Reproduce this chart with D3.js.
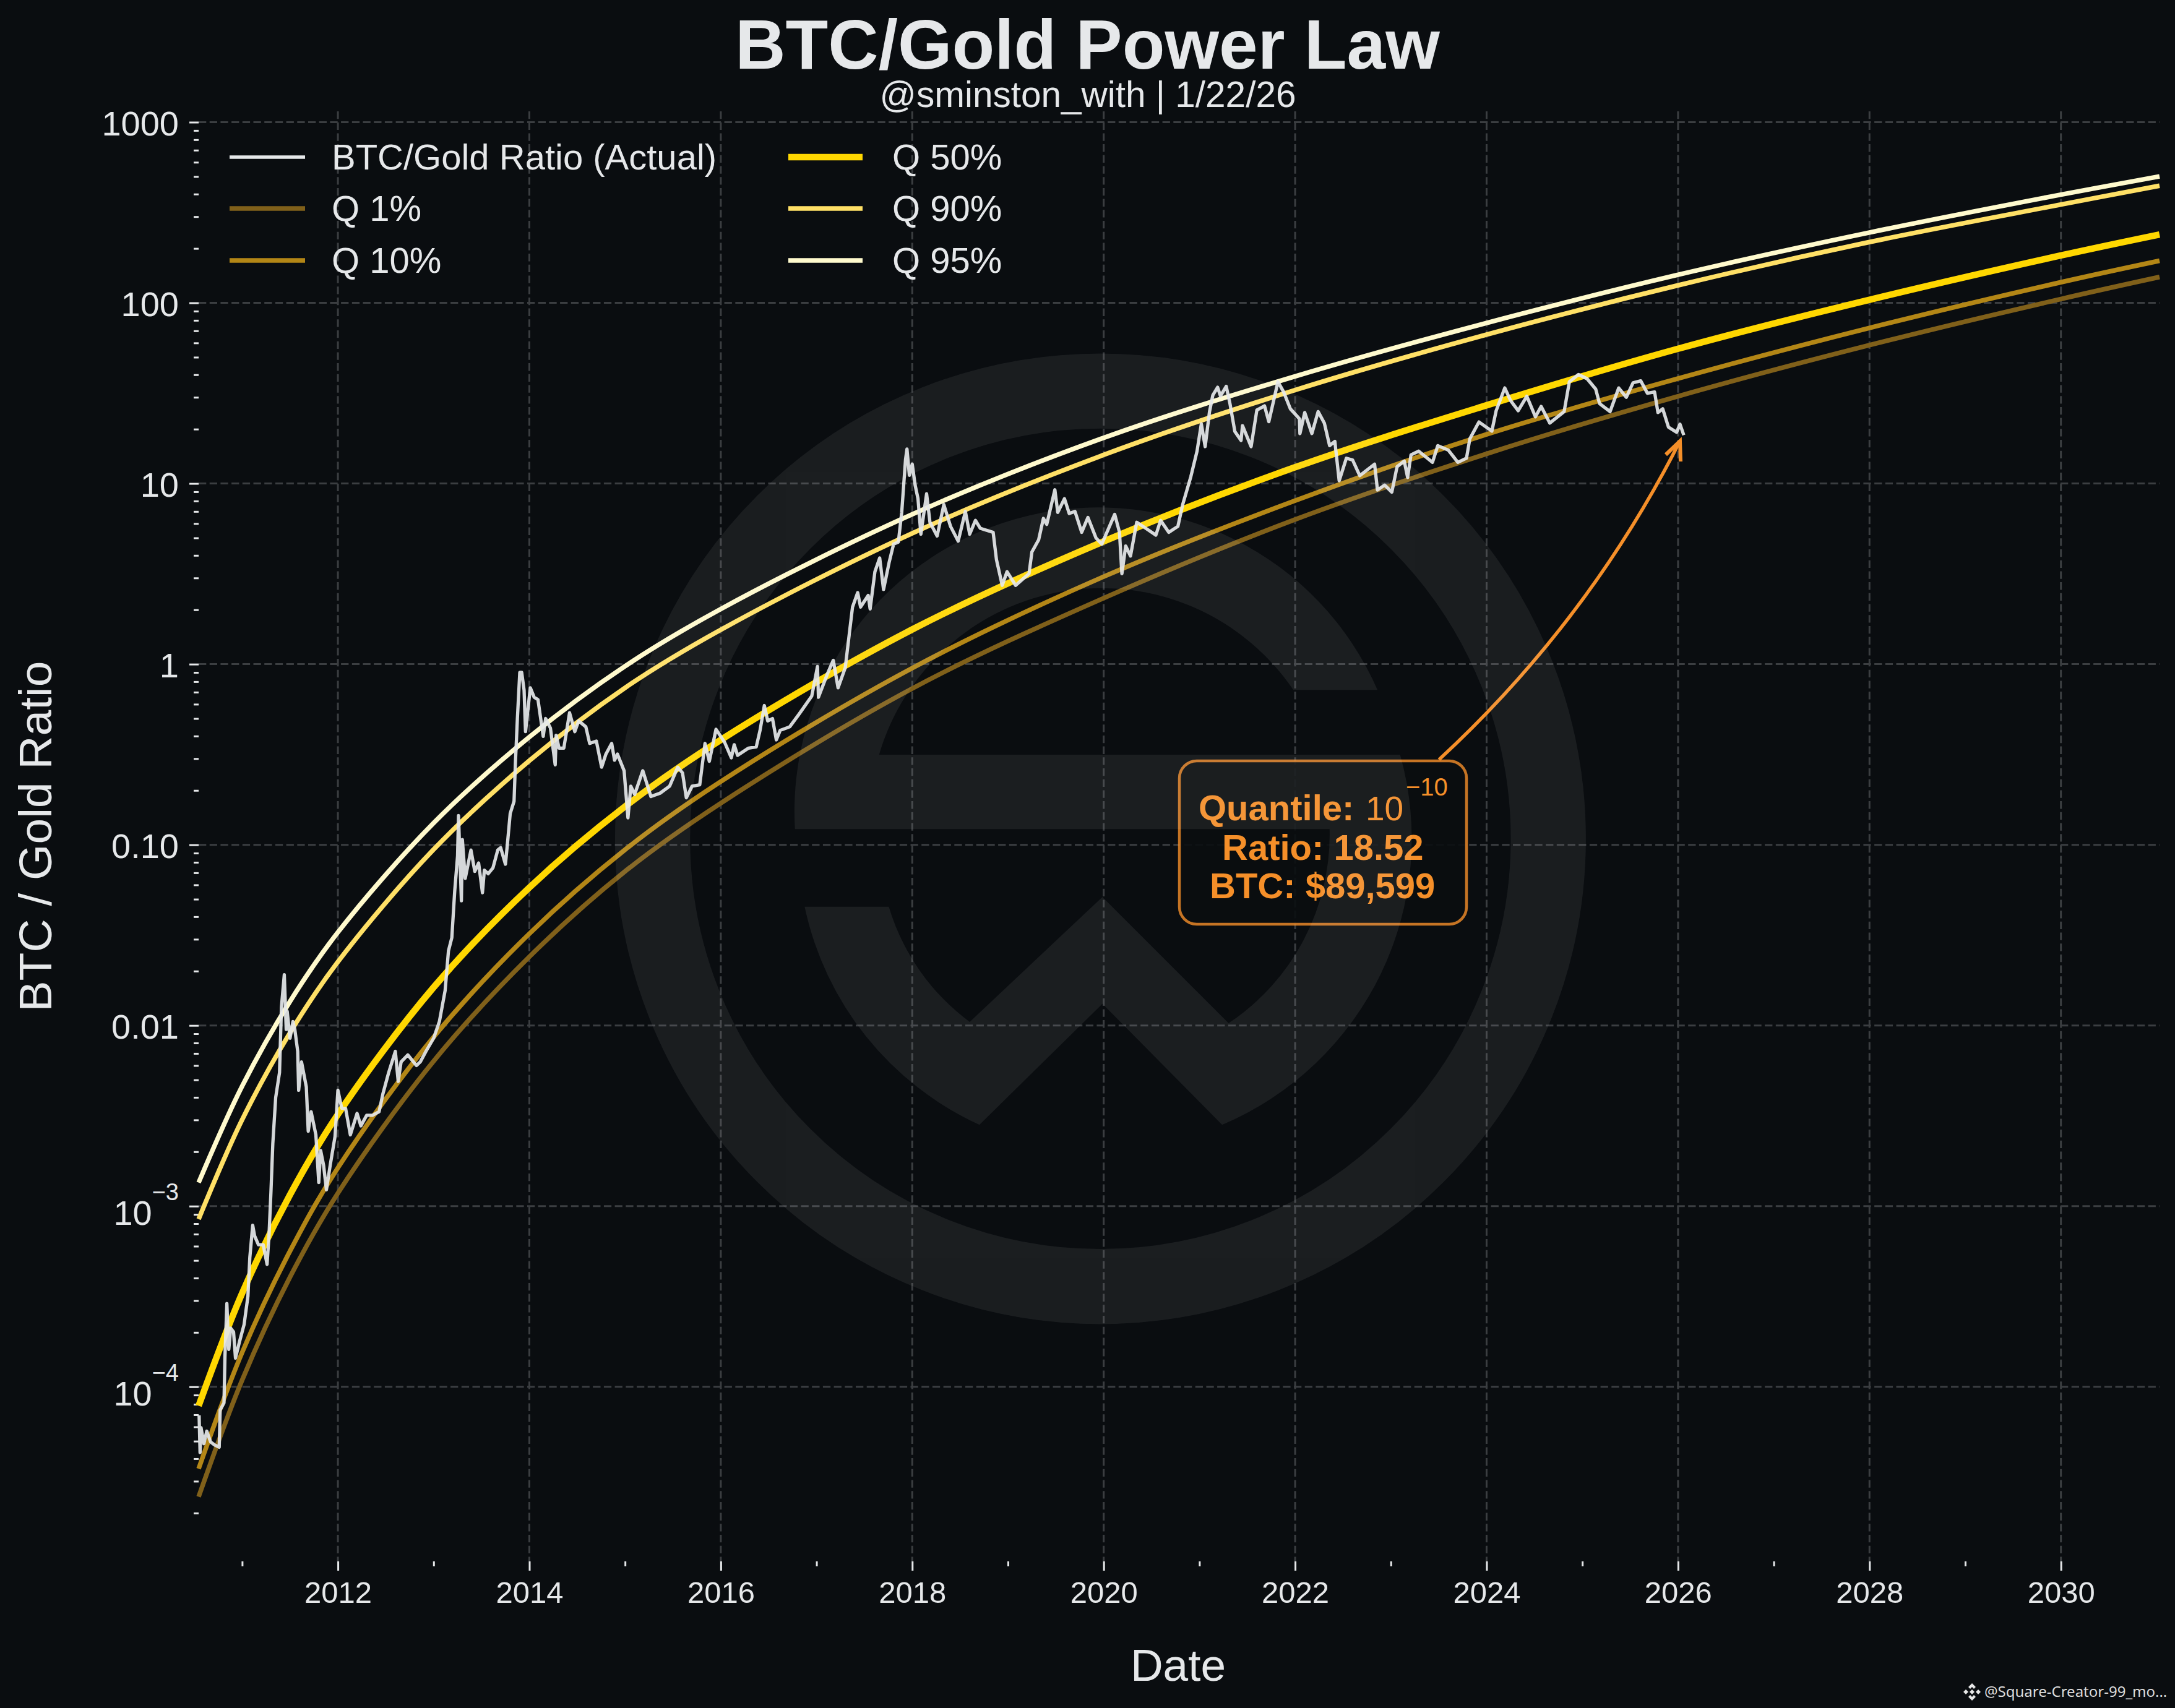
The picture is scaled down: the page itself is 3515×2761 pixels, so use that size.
<!DOCTYPE html>
<html lang="en">
<head>
<meta charset="UTF-8">
<script src="https://d3js.org/d3.v7.min.js"></script>
<title>BTC/Gold Power Law</title>
<style>
    html, body { margin: 0; background: #0a0d10; }
    svg { display: block; }
    text { font-family: "Liberation Sans", Arial, sans-serif; fill: #e6e8ea; }
</style>
</head>
<body>
<script>
    // quantile curves
    const curveYears = [2010.545, 2011, 2011.5, 2012, 2013, 2014, 2015, 2016, 2018, 2020, 2022, 2024, 2026, 2028, 2030, 2031.03]
    const q1 = [2.46e-5, 1.09e-4, 4.05e-4, 1.18e-3, 6.35e-3, 0.0240, 0.0713, 0.170, 0.733, 2.32, 6.32, 14.6, 30.4, 58.3, 105, 139]
    const q10 = [3.52e-5, 1.55e-4, 5.64e-4, 1.63e-3, 8.63e-3, 0.0322, 0.0940, 0.224, 0.951, 3.05, 8.04, 18.7, 38.1, 72.6, 130, 171]
    const q50 = [7.85e-5, 3.30e-4, 1.156e-3, 3.22e-3, 0.01626, 0.0580, 0.163, 0.381, 1.556, 4.78, 12.3, 27.1, 55.7, 104, 183, 239]
    const q90 = [8.47e-4, 3.01e-3, 9.12e-3, 0.0225, 0.0942, 0.292, 0.740, 1.55, 5.30, 14.4, 32.9, 66.7, 125, 217, 350, 445]
    const q95 = [1.35e-3, 4.62e-3, 0.0136, 0.0328, 0.132, 0.395, 0.975, 2.02, 6.75, 17.9, 39.2, 77.4, 143, 245, 397, 501]

    // actual BTC/Gold ratio
    const actualYears = [
        2010.55, 2010.56, 2010.57, 2010.60, 2010.63, 2010.67, 2010.71, 2010.76, 2010.77, 2010.81, 2010.82, 2010.84, 2010.86, 2010.88, 2010.91, 2010.93,
        2010.97, 2011.02, 2011.06, 2011.08, 2011.11, 2011.13, 2011.17, 2011.22, 2011.26, 2011.28, 2011.30, 2011.32, 2011.35, 2011.39, 2011.41, 2011.44,
        2011.46, 2011.47, 2011.50, 2011.53, 2011.55, 2011.58, 2011.59, 2011.62, 2011.67, 2011.69, 2011.72, 2011.77, 2011.80, 2011.82, 2011.85, 2011.88,
        2011.92, 2011.97, 2012.00, 2012.04, 2012.08, 2012.13, 2012.20, 2012.24, 2012.30, 2012.36, 2012.43, 2012.47, 2012.53, 2012.60, 2012.63, 2012.66,
        2012.73, 2012.82, 2012.86, 2012.92, 2013.00, 2013.06, 2013.12, 2013.155, 2013.19, 2013.22, 2013.25, 2013.26, 2013.29, 2013.30, 2013.33, 2013.39,
        2013.43, 2013.47, 2013.51, 2013.53, 2013.57, 2013.62, 2013.67, 2013.70, 2013.75, 2013.77, 2013.80, 2013.84, 2013.855, 2013.875, 2013.90, 2013.92,
        2013.945, 2013.96, 2014.01, 2014.05, 2014.09, 2014.145, 2014.17, 2014.22, 2014.27, 2014.28, 2014.31, 2014.36, 2014.42, 2014.475, 2014.515, 2014.59,
        2014.63, 2014.70, 2014.755, 2014.80, 2014.86, 2014.89, 2014.92, 2014.99, 2015.03, 2015.06, 2015.10, 2015.185, 2015.27, 2015.365, 2015.465, 2015.55,
        2015.60, 2015.64, 2015.70, 2015.78, 2015.835, 2015.88, 2015.95, 2016.04, 2016.11, 2016.14, 2016.175, 2016.29, 2016.37, 2016.41, 2016.455, 2016.49,
        2016.54, 2016.58, 2016.62, 2016.72, 2016.82, 2016.95, 2017.01, 2017.02, 2017.115, 2017.175, 2017.225, 2017.30, 2017.376, 2017.43, 2017.46, 2017.54,
        2017.56, 2017.61, 2017.66, 2017.70, 2017.76, 2017.805, 2017.855, 2017.89, 2017.93, 2017.945, 2017.97, 2018.00, 2018.03, 2018.06, 2018.09, 2018.15,
        2018.185, 2018.26, 2018.33, 2018.40, 2018.48, 2018.555, 2018.60, 2018.66, 2018.71, 2018.845, 2018.88, 2018.94, 2018.99, 2019.08, 2019.22, 2019.25,
        2019.32, 2019.37, 2019.405, 2019.49, 2019.52, 2019.59, 2019.64, 2019.70, 2019.77, 2019.835, 2019.92, 2019.98, 2020.115, 2020.165, 2020.19, 2020.23,
        2020.28, 2020.345, 2020.41, 2020.545, 2020.595, 2020.68, 2020.775, 2020.825, 2020.91, 2020.975, 2021.02, 2021.06, 2021.105, 2021.14, 2021.19, 2021.22,
        2021.28, 2021.32, 2021.37, 2021.435, 2021.45, 2021.54, 2021.60, 2021.68, 2021.725, 2021.80, 2021.82, 2021.88, 2021.95, 2022.045, 2022.05, 2022.10,
        2022.175, 2022.24, 2022.305, 2022.36, 2022.415, 2022.46, 2022.535, 2022.60, 2022.675, 2022.83, 2022.86, 2022.935, 2023.01, 2023.065, 2023.14, 2023.175,
        2023.21, 2023.29, 2023.435, 2023.49, 2023.60, 2023.70, 2023.79, 2023.825, 2023.92, 2024.055, 2024.10, 2024.19, 2024.25, 2024.33, 2024.42, 2024.51,
        2024.57, 2024.66, 2024.81, 2024.865, 2024.96, 2025.05, 2025.14, 2025.18, 2025.29, 2025.38, 2025.46, 2025.53, 2025.61, 2025.68, 2025.755, 2025.79,
        2025.84, 2025.90, 2025.985, 2026.02, 2026.06
    ]
    const actualRatio = [
        6.95e-5, 4.33e-5, 5.94e-5, 4.84e-5, 5.68e-5, 4.95e-5, 4.77e-5, 4.63e-5, 7.44e-5, 8.15e-5, 1.47e-4, 2.89e-4, 1.61e-4, 2.11e-4, 2.01e-4, 1.44e-4,
        1.76e-4, 2.21e-4, 3.17e-4, 5.21e-4, 7.83e-4, 6.84e-4, 6.11e-4, 6.11e-4, 4.76e-4, 6.84e-4, 1.18e-3, 2.22e-3, 3.99e-3, 5.48e-3, 0.0126, 0.0191,
        0.0095, 0.012, 0.0085, 0.0105, 0.0095, 7.19e-3, 4.38e-3, 6.28e-3, 4.57e-3, 2.60e-3, 3.33e-3, 2.48e-3, 1.35e-3, 2.03e-3, 1.69e-3, 1.23e-3,
        1.69e-3, 2.43e-3, 4.38e-3, 3.48e-3, 3.48e-3, 2.48e-3, 3.26e-3, 2.78e-3, 3.18e-3, 3.18e-3, 3.33e-3, 4.18e-3, 5.48e-3, 7.19e-3, 4.90e-3, 6.28e-3,
        6.87e-3, 6.0e-3, 6.28e-3, 7.19e-3, 0.0085, 0.0105, 0.0156, 0.0259, 0.0306, 0.0552, 0.0867, 0.145, 0.049, 0.107, 0.0652, 0.0935,
        0.0713, 0.0793, 0.0543, 0.0724, 0.0692, 0.0746, 0.0935, 0.0964, 0.0781, 0.10, 0.149, 0.174, 0.290, 0.500, 0.900, 0.90,
        0.718, 0.423, 0.74, 0.656, 0.636, 0.398, 0.50, 0.443, 0.277, 0.404, 0.343, 0.343, 0.538, 0.423, 0.485, 0.45,
        0.364, 0.375, 0.269, 0.318, 0.364, 0.294, 0.318, 0.257, 0.141, 0.211, 0.19, 0.257, 0.185, 0.193, 0.211, 0.269,
        0.25, 0.182, 0.211, 0.215, 0.364, 0.29, 0.436, 0.369, 0.303, 0.358, 0.313, 0.343, 0.348, 0.43, 0.59, 0.485,
        0.50, 0.381, 0.43, 0.45, 0.531, 0.665, 0.97, 0.656, 0.887, 1.05, 0.74, 0.955, 2.07, 2.49, 2.07, 2.40,
        2.02, 3.25, 3.87, 2.59, 3.69, 4.62, 4.74, 6.92, 13.6, 15.5, 11.1, 12.8, 9.8, 8.24, 5.24, 8.77,
        6.1, 5.12, 7.64, 5.79, 4.8, 7.0, 5.24, 6.25, 5.65, 5.37, 3.78, 2.73, 3.25, 2.73, 3.17, 4.18,
        4.87, 6.41, 5.94, 9.23, 6.92, 8.24, 6.82, 7.0, 5.37, 6.49, 4.99, 4.62, 6.75, 5.37, 3.17, 4.51,
        3.97, 6.1, 5.79, 5.18, 6.25, 5.37, 5.79, 7.64, 10.9, 15.1, 21.4, 16.0, 24.9, 30.8, 34.1, 30.5,
        34.5, 27.5, 19.4, 17.3, 20.9, 16.0, 25.5, 26.9, 22.0, 32.8, 36.6, 32.1, 25.9, 22.8, 18.9, 24.7,
        18.9, 25.0, 21.6, 16.2, 17.1, 10.35, 13.8, 13.5, 11.05, 12.8, 9.2, 9.8, 8.96, 12.4, 13.3, 10.8,
        14.4, 15.1, 13.1, 16.2, 15.3, 13.1, 13.8, 17.7, 21.9, 19.5, 25.3, 33.8, 28.8, 25.3, 30.4, 23.4,
        26.7, 21.6, 25.0, 36.6, 40.1, 38.0, 33.3, 27.7, 25.0, 33.8, 30.0, 36.1, 37.0, 31.6, 32.1, 24.7,
        25.9, 20.5, 19.2, 21.3, 18.52
    ]

    const legendRows = [
        {label: "BTC/Gold Ratio (Actual)", color: "#e6e8ea", width: 5.5, col: 0, row: 0},
        {label: "Q 1%", color: "#80601a", width: 7.5, col: 0, row: 1},
        {label: "Q 10%", color: "#b38616", width: 7.5, col: 0, row: 2},
        {label: "Q 50%", color: "#ffd700", width: 10.5, col: 1, row: 0},
        {label: "Q 90%", color: "#ffe066", width: 7.5, col: 1, row: 1},
        {label: "Q 95%", color: "#fffacd", width: 7.5, col: 1, row: 2}
    ]
    const quantiles = [q1, q10, q50, q90, q95]
    const quantileStyle = legendRows.slice(1)

    const majorY = [1000, 100, 10, 1, 0.1, 0.01, 1e-3, 1e-4]
    const majorYears = d3.range(2012, 2031, 2)
    const minorYears = d3.range(2011, 2031, 2)

    const W = 3515, H = 2761
    const plotL = 321, plotR = 3490, plotT = 180, plotB = 2524
    const orange = "#f58f29"

    const x = d3.scaleLinear().domain([2010.545, 2031.03]).range([plotL, plotR])
    const y = d3.scaleLog().domain([1.08e-5, 1148]).range([plotB, plotT])

    const svg = d3.select("body").append("svg").attr("width", W).attr("height", H)
    svg.append("rect").attr("width", W).attr("height", H).attr("fill", "#0a0d10")

    // grid
    const grid = svg.append("g").attr("stroke", "#3b3e41").attr("stroke-width", 3).attr("stroke-dasharray", "12.3,5.4")
    majorYears.forEach(d => {
        grid.append("line").attr("x1", x(d)).attr("x2", x(d)).attr("y1", plotT).attr("y2", plotB)
    })
    majorY.forEach(d => {
        grid.append("line").attr("x1", plotL).attr("x2", plotR).attr("y1", y(d)).attr("y2", y(d))
    })

    // axes
    let minorY = []
    for (let e = -5; e < 3; e++) {
        for (let m = 2; m <= 9; m++) {
            const v = m * Math.pow(10, e)
            if (v >= 1.08e-5 && v <= 1148) minorY.push(v)
        }
    }
    const yMinor = svg.append("g").attr("transform", `translate(${plotL},0)`)
        .call(d3.axisLeft(y).tickValues(minorY).tickSize(8).tickFormat(""))
    const xMinor = svg.append("g").attr("transform", `translate(0,${plotB})`)
        .call(d3.axisBottom(x).tickValues(minorYears).tickSize(8).tickFormat(""))
    const yMajor = svg.append("g").attr("transform", `translate(${plotL},0)`)
        .call(d3.axisLeft(y).tickValues(majorY).tickSize(15).tickFormat(d => d >= 1 ? d3.format("d")(d) : d >= 0.01 ? d3.format(".2f")(d) : ""))
    const xMajor = svg.append("g").attr("transform", `translate(0,${plotB})`)
        .call(d3.axisBottom(x).tickValues(majorYears).tickSize(15).tickFormat(d3.format("d")))
    ;[yMinor, xMinor, yMajor, xMajor].forEach(g => {
        g.select(".domain").remove()
        g.selectAll("line").attr("stroke", "#e6e8ea").attr("stroke-width", 3)
    })
    yMajor.selectAll("text").attr("x", -32).attr("y", 20.5).attr("dy", 0).style("font-size", "56px")
    xMajor.selectAll("text").attr("y", 66.7).attr("dy", 0).style("font-size", "49px")

    // 10^-3 and 10^-4 labels
    yMajor.selectAll(".tick").filter(d => d < 0.01).select("text").each(function (d) {
        const t = d3.select(this).attr("y", 30)
        t.append("tspan").text("10")
        t.append("tspan").attr("dy", -40).style("font-size", "38px").text("\u2212" + Math.round(-Math.log10(d)))
    })

    // curves
    const curveLine = d3.line().x((d, i) => x(curveYears[i])).y(d => y(d)).curve(d3.curveCatmullRom)
    quantiles.forEach((q, i) => {
        svg.append("path").attr("d", curveLine(q)).attr("fill", "none")
            .attr("stroke", quantileStyle[i].color).attr("stroke-width", i === 2 ? 10.5 : 7.5)
    })

    const actualLine = d3.line().x((d, i) => x(actualYears[i])).y(d => y(d))
    svg.append("path").attr("d", actualLine(actualRatio)).attr("fill", "none")
        .attr("stroke", "#e6e8ea").attr("stroke-opacity", 0.92).attr("stroke-width", 5.3).attr("stroke-linejoin", "round")

    // legend
    const colX = [[371, 493, 536], [1274, 1394, 1442]]
    const rowY = [254, 337, 421]
    legendRows.forEach(d => {
        svg.append("line").attr("x1", colX[d.col][0]).attr("x2", colX[d.col][1])
            .attr("y1", rowY[d.row]).attr("y2", rowY[d.row])
            .attr("stroke", d.color).attr("stroke-width", d.width)
        svg.append("text").attr("x", colX[d.col][2]).attr("y", rowY[d.row] + 20)
            .style("font-size", "58px").text(d.label)
    })

    // titles
    svg.append("text").attr("x", 1757.5).attr("y", 110.7).attr("text-anchor", "middle")
        .style("font-size", "112.6px").style("font-weight", "bold").text("BTC/Gold Power Law")
    svg.append("text").attr("x", 1758).attr("y", 172.7).attr("text-anchor", "middle")
        .style("font-size", "58.5px").text("@sminston_with | 1/22/26")
    svg.append("text").attr("x", 1904).attr("y", 2717).attr("text-anchor", "middle")
        .style("font-size", "73px").text("Date")
    svg.append("text").attr("transform", "translate(83,1352) rotate(-90)").attr("text-anchor", "middle")
        .style("font-size", "75px").text("BTC / Gold Ratio")

    // annotation
    svg.append("rect").attr("x", 1906).attr("y", 1230).attr("width", 464).attr("height", 264).attr("rx", 28)
        .attr("fill", "#0a0d10").attr("fill-opacity", 0.9)
        .attr("stroke", orange).attr("stroke-opacity", 0.8).attr("stroke-width", 4.5)
    svg.append("path").attr("d", "M2325.5,1228 Q2567,1005 2715,713").attr("fill", "none")
        .attr("stroke", orange).attr("stroke-width", 5.5)
    svg.append("path").attr("d", "M2692,735 L2715,713 L2716,746").attr("fill", "none")
        .attr("stroke", orange).attr("stroke-width", 6)
    const note = svg.append("g").style("font-size", "58px").style("font-weight", "bold")
    note.append("text").attr("x", 1937).attr("y", 1326).style("fill", orange).text("Quantile:")
    note.append("text").attr("x", 2207).attr("y", 1326).style("fill", orange).style("font-weight", "normal").style("font-size", "55px").text("10")
    note.append("text").attr("x", 2272).attr("y", 1286).style("fill", orange).style("font-weight", "normal").style("font-size", "40px").text("\u221210")
    note.append("text").attr("x", 1975).attr("y", 1390).style("fill", orange).text("Ratio: 18.52")
    note.append("text").attr("x", 1955).attr("y", 1452).style("fill", orange).text("BTC: $89,599")

    // logo watermark laid over everything
    const mark = svg.append("g").attr("transform", "translate(950,540) scale(1.046)").attr("opacity", 0.065)
    mark.append("circle").attr("cx", 792).attr("cy", 780).attr("r", 692).attr("fill", "none")
        .attr("stroke", "#fff").attr("stroke-width", 116)
    mark.append("path").attr("fill", "#fff").attr("d",
        "M320,765 A470,470 0 0 1 1220,550 L1090,550 A358,358 0 0 0 450,650 L1255,650 " +
        "A480,480 0 0 1 980,1222 L795,1035 L605,1222 A480,480 0 0 1 335,885 L465,885 " +
        "A345,345 0 0 0 590,1063 L795,870 L990,1065 A350,350 0 0 0 1146,765 Z")

    // corner credit
    const icon = svg.append("g").attr("transform", "translate(3187,2735)").attr("fill", "#e8e8e8")
    icon.append("path").attr("d", "M0,-14 L6,-8 L3,-5 L0,-8 L-3,-5 L-6,-8 Z M0,14 L6,8 L3,5 L0,8 L-3,5 L-6,8 Z M-14,0 L-10,-4 L-6,0 L-10,4 Z M14,0 L10,-4 L6,0 L10,4 Z M0,-4 L4,0 L0,4 L-4,0 Z")
    svg.append("text").attr("x", 3207).attr("y", 2743).style("font-family", "'Noto Sans', sans-serif")
        .style("font-size", "24px").style("fill", "#dcdcdc").text("@Square-Creator-99_mo...")
</script>
</body>
</html>
